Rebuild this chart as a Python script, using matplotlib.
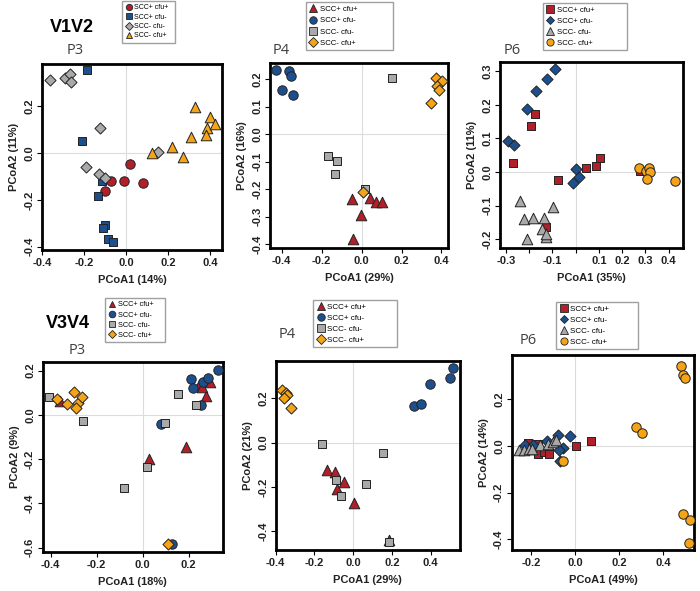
import matplotlib.pyplot as plt
from matplotlib.lines import Line2D

plt.rcParams['font.family'] = ['Liberation Sans', 'DejaVu Sans']

groups = ['SCC+ cfu+', 'SCC+ cfu-', 'SCC- cfu-', 'SCC- cfu+']
colors = ['#b11f2b', '#1d4f8f', '#a9a9a9', '#f5a418']

# V1V2 P3
v12_p3_x = [
    [0.02, -0.07, -0.01, 0.08, -0.10],
    [-0.186, -0.21, -0.115, -0.134, -0.099, -0.11, -0.085, -0.064],
    [-0.364, -0.292, -0.268, -0.262, -0.126, -0.189, -0.127, -0.099, 0.153],
    [0.123, 0.218, 0.27, 0.326, 0.31, 0.397, 0.385, 0.421, 0.38],
]
v12_p3_y = [
    [-0.046, -0.121, -0.119, -0.129, -0.161],
    [0.354, 0.05, -0.121, -0.183, -0.306, -0.32, -0.366, -0.379],
    [0.311, 0.319, 0.337, 0.304, 0.109, -0.059, -0.089, -0.107, 0.003],
    [0.0, 0.024, -0.017, 0.197, 0.069, 0.154, 0.107, 0.124, 0.079],
]

# V1V2 P4
v12_p4_x = [
    [-0.05, 0.042, 0.07, 0.103, -0.003, -0.042],
    [-0.428, -0.365, -0.352, -0.40, -0.345],
    [0.153, -0.17, -0.125, -0.132, 0.015],
    [0.375, 0.403, 0.378, 0.388, 0.35, 0.008],
]
v12_p4_y = [
    [-0.236, -0.233, -0.247, -0.247, -0.293, -0.382],
    [0.232, 0.228, 0.213, 0.161, 0.144],
    [0.204, -0.079, -0.097, -0.144, -0.20],
    [0.204, 0.192, 0.176, 0.161, 0.113, -0.212],
]

# V1V2 P6
v12_p6_x = [
    [-0.174, -0.19, -0.27, -0.077, 0.043, 0.086, 0.103, 0.279, -0.129],
    [-0.289, -0.267, -0.211, -0.169, -0.123, -0.087, 0.003, 0.014, -0.011],
    [-0.24, -0.223, -0.183, -0.137, -0.097, -0.211, -0.144, -0.126, -0.126],
    [0.271, 0.303, 0.314, 0.32, 0.307, 0.427],
]
v12_p6_y = [
    [0.174, 0.138, 0.028, -0.022, 0.013, 0.019, 0.041, 0.004, -0.164],
    [0.092, 0.081, 0.188, 0.24, 0.276, 0.306, 0.009, -0.014, -0.032],
    [-0.085, -0.139, -0.137, -0.137, -0.105, -0.199, -0.169, -0.192, -0.185],
    [0.013, 0.004, 0.013, 0.001, -0.021, -0.026],
]

# V3V4 P3
v34_p3_x = [
    [-0.359, 0.029, 0.188, 0.246, 0.294, 0.275, 0.257],
    [0.21, 0.217, 0.261, 0.283, 0.33, 0.254, 0.08, 0.128],
    [-0.406, -0.261, 0.155, 0.232, 0.099, 0.02, -0.08],
    [-0.374, -0.329, -0.297, -0.28, -0.29, -0.264, 0.109],
]
v34_p3_y = [
    [0.065, -0.20, -0.146, 0.135, 0.15, 0.084, 0.125],
    [0.162, 0.122, 0.147, 0.165, 0.205, 0.045, -0.041, -0.585],
    [0.08, -0.026, 0.095, 0.045, -0.035, -0.235, -0.33],
    [0.072, 0.05, 0.102, 0.054, 0.032, 0.08, -0.585],
]

# V3V4 P4
v34_p4_x = [
    [-0.134, -0.095, -0.047, -0.086, 0.005, 0.186],
    [0.316, 0.35, 0.397, 0.503, 0.514],
    [-0.16, 0.155, 0.066, -0.09, -0.064, 0.186],
    [-0.366, -0.348, -0.341, -0.357, -0.322],
]
v34_p4_y = [
    [-0.125, -0.133, -0.178, -0.208, -0.271, -0.442],
    [0.166, 0.176, 0.267, 0.294, 0.338],
    [-0.008, -0.045, -0.186, -0.17, -0.241, -0.452],
    [0.237, 0.225, 0.214, 0.202, 0.158],
]

# V3V4 P6
v34_p6_x = [
    [-0.211, -0.169, -0.166, -0.139, -0.118, 0.003, 0.072],
    [-0.075, -0.023, -0.128, -0.053, -0.072, -0.068, -0.226, -0.189],
    [-0.256, -0.231, -0.208, -0.158, -0.124, -0.098, -0.087, -0.196],
    [0.48, 0.49, 0.50, 0.276, 0.306, -0.056, 0.49, 0.523, 0.517],
]
v34_p6_y = [
    [0.013, 0.007, -0.036, -0.026, -0.036, -0.001, 0.02],
    [0.049, 0.043, 0.021, -0.007, -0.019, -0.064, 0.006, 0.006],
    [-0.016, -0.016, -0.011, 0.003, 0.007, 0.017, 0.027, -0.014],
    [0.343, 0.306, 0.293, 0.081, 0.057, -0.066, -0.29, -0.316, -0.416],
]

sizes = {'o': 46, 's': 40, 'D': 32, '^': 58}

panels = [
    dict(x=v12_p3_x, y=v12_p3_y, mk=['o', 's', 'D', '^'], pos=[0.060, 0.577, 0.257, 0.315],
         xlim=(-0.40, 0.456), ylim=(-0.414, 0.381), xt=[-0.4, -0.2, 0.0, 0.2, 0.4], yt=[-0.4, -0.2, 0.0, 0.2],
         xl='PCoA1 (14%)', yl='PCoA2 (11%)', title='P3', tpos=(75, 50),
         leg=(122, 1, 53), lfs=5.0, lms=4.6, lsp=0.35),
    dict(x=v12_p4_x, y=v12_p4_y, mk=['^', 'o', 's', 'D'], pos=[0.386, 0.580, 0.254, 0.313],
         xlim=(-0.458, 0.433), ylim=(-0.415, 0.258), xt=[-0.4, -0.2, 0.0, 0.2, 0.4],
         yt=[-0.4, -0.3, -0.2, -0.1, 0.0, 0.1, 0.2],
         xl='PCoA1 (29%)', yl='PCoA2 (16%)', title='P4', tpos=(281, 50),
         leg=(306, 2, 87), lfs=5.6, lms=5.4, lsp=0.5),
    dict(x=v12_p6_x, y=v12_p6_y, mk=['s', 'D', '^', 'o'], pos=[0.714, 0.580, 0.261, 0.315],
         xlim=(-0.326, 0.46), ylim=(-0.226, 0.327), xt=[-0.3, -0.2, -0.1, 0.0, 0.1, 0.2, 0.3, 0.4],
         xtl=['-0.3', '', '-0.1', '', '0.1', '0.2', '0.3', '0.4'],
         yt=[-0.2, -0.1, 0.0, 0.1, 0.2, 0.3],
         xl='PCoA1 (35%)', yl='PCoA2 (11%)', title='P6', tpos=(512, 50),
         leg=(543, 3, 84), lfs=5.6, lms=5.2, lsp=0.45),
    dict(x=v34_p3_x, y=v34_p3_y, mk=['^', 'o', 's', 'D'], pos=[0.061, 0.066, 0.257, 0.321],
         xlim=(-0.435, 0.348), ylim=(-0.62, 0.238), xt=[-0.4, -0.2, 0.0, 0.2], yt=[-0.6, -0.4, -0.2, 0.0, 0.2],
         xl='PCoA1 (18%)', yl='PCoA2 (9%)', title='P3', tpos=(77, 351),
         leg=(105, 298, 60), lfs=5.3, lms=4.8, lsp=0.4),
    dict(x=v34_p4_x, y=v34_p4_y, mk=['^', 'o', 's', 'D'], pos=[0.394, 0.069, 0.263, 0.321],
         xlim=(-0.40, 0.552), ylim=(-0.487, 0.372), xt=[-0.4, -0.2, 0.0, 0.2, 0.4], yt=[-0.4, -0.2, 0.0, 0.2],
         xl='PCoA1 (29%)', yl='PCoA2 (21%)', title='P4', tpos=(287, 334),
         leg=(313, 300, 84), lfs=5.8, lms=5.4, lsp=0.4),
    dict(x=v34_p6_x, y=v34_p6_y, mk=['s', 'D', '^', 'o'], pos=[0.731, 0.069, 0.261, 0.330],
         xlim=(-0.287, 0.543), ylim=(-0.447, 0.389), xt=[-0.2, 0.0, 0.2, 0.4], yt=[-0.4, -0.2, 0.0, 0.2],
         xl='PCoA1 (49%)', yl='PCoA2 (14%)', title='P6', tpos=(528, 341),
         leg=(556, 302, 82), lfs=5.8, lms=5.2, lsp=0.4),
]

W, H = 700, 591
fig = plt.figure(figsize=(7, 5.91), dpi=100)

for p in panels:
    ax = fig.add_axes(p['pos'])
    ax.axhline(0, color='#dcdcdc', lw=0.8, zorder=0)
    ax.axvline(0, color='#dcdcdc', lw=0.8, zorder=0)
    for xs, ys, m, c in zip(p['x'], p['y'], p['mk'], colors):
        ax.scatter(xs, ys, marker=m, s=sizes[m], c=c, edgecolors='#222222', linewidths=0.7, zorder=3)
    ax.set_xlim(*p['xlim'])
    ax.set_ylim(*p['ylim'])
    ax.set_xticks(p['xt'])
    ax.set_xticklabels(p.get('xtl', ['%.1f' % v for v in p['xt']]))
    ax.set_yticks(p['yt'])
    ax.set_yticklabels(['%.1f' % v for v in p['yt']], rotation=90, va='center')
    ax.tick_params(labelsize=8, length=3.5, width=0.8, pad=2)
    for lab in ax.get_xticklabels() + ax.get_yticklabels():
        lab.set_fontweight('bold')
        lab.set_color('#222222')
    for sp in ax.spines.values():
        sp.set_linewidth(2)
    ax.set_xlabel(p['xl'], fontsize=8, fontweight='bold', labelpad=5, color='#222222')
    ax.set_ylabel(p['yl'], fontsize=8, fontweight='bold', labelpad=4, color='#222222')
    fig.text(p['tpos'][0] / W, 1 - p['tpos'][1] / H, p['title'], fontsize=10.5,
             family='Open Sans', color='#404040', ha='center', va='center')
    handles = [Line2D([], [], ls='none', marker=m, ms=p['lms'] if m != 'D' else p['lms'] * 0.85,
                      mfc=c, mec='#222222', mew=0.6) for m, c in zip(p['mk'], colors)]
    lx, ly, lw = p['leg']
    fig.legend(handles, groups, loc='upper left', mode='expand',
               bbox_to_anchor=(lx / W, 1 - ly / H - 0.001, lw / W, 0.001),
               fontsize=p['lfs'], frameon=True, fancybox=False, edgecolor='#888888',
               borderpad=0.45, labelspacing=p['lsp'], handletextpad=0.3, handlelength=1.0,
               borderaxespad=0)

fig.text(72 / W, 1 - 28 / H, 'V1V2', fontsize=13, fontweight='bold', ha='center', va='center')
fig.text(68 / W, 1 - 323 / H, 'V3V4', fontsize=13, fontweight='bold', ha='center', va='center')

fig.savefig('out.png', dpi=100)
